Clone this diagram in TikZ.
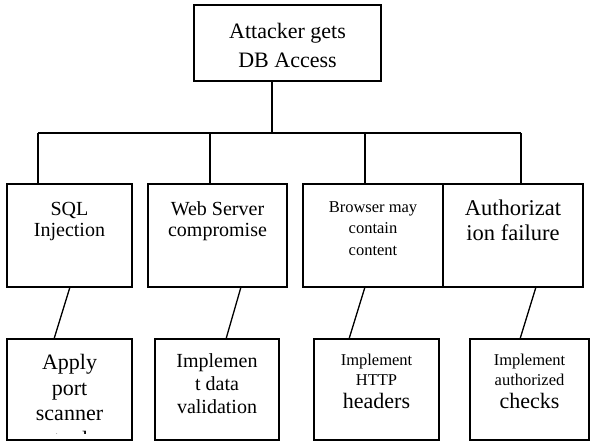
\documentclass[tikz,border=0pt]{standalone}
\usepackage{fontspec}
\setmainfont{Liberation Serif}
\newcommand\fsz[1]{\fontsize{#1}{#1}\selectfont}
\begin{document}
\begin{tikzpicture}[x=1pt,y=-1pt,
  box/.style={draw=black, line width=1.3pt, fill=white, rectangle, anchor=north west, inner sep=0pt, outer sep=0pt},
  txt/.style={anchor=base, inner sep=0pt, text=black},
  wire/.style={draw=black, line width=1.3pt}]
\useasboundingbox (0,0) rectangle (590,442);

% root
\node[box, minimum width=187pt, minimum height=76pt] (root) at (194,5) {};
\node[txt, font=\fsz{22}] (r1) at (287.5,38) {Attacker gets};
\node[txt, font=\fsz{22}] (r2) at (287.5,67) {DB Access};

% second row of boxes
\node[box, minimum width=125pt, minimum height=103pt] (a) at (7,184) {};
\node[box, minimum width=139pt, minimum height=103pt] (b) at (148,184) {};
\node[box, minimum width=140pt, minimum height=103pt] (c) at (303,184) {};
\node[box, minimum width=140pt, minimum height=103pt] (d) at (443,184) {};

\node[txt, font=\fsz{20}] (a1) at (69.5,215) {SQL};
\node[txt, font=\fsz{20}] (a2) at (69.5,236) {Injection};
\node[txt, font=\fsz{20}] (b1) at (217.5,215) {Web Server};
\node[txt, font=\fsz{20}] (b2) at (217.5,236) {compromise};
\node[txt, font=\fsz{16.5}] (c1) at (373,212) {Browser may};
\node[txt, font=\fsz{16.5}] (c2) at (373,233) {contain};
\node[txt, font=\fsz{16.5}] (c3) at (373,255) {content};
\node[txt, font=\fsz{22.5}] (d1) at (513,215) {Authorizat};
\node[txt, font=\fsz{22.5}] (d2) at (513,240) {ion failure};

% third row of boxes
\node[box, minimum width=125pt, minimum height=101pt] (e) at (7,339) {};
\node[box, minimum width=124pt, minimum height=101pt] (f) at (155,339) {};
\node[box, minimum width=125pt, minimum height=101pt] (g) at (314,339) {};
\node[box, minimum width=119pt, minimum height=101pt] (h) at (470,339) {};

\begin{scope}
  \clip (7,339) rectangle (132,433);
  \node[txt, font=\fsz{22}] (e1) at (69.5,369) {Apply};
  \node[txt, font=\fsz{22}] (e2) at (69.5,395) {port};
  \node[txt, font=\fsz{22}] (e3) at (69.5,420) {scanner};
  \node[txt, font=\fsz{22}] (e4) at (71,446) {tool};
\end{scope}
\node[txt, font=\fsz{20}] (f1) at (217,367) {Implemen};
\node[txt, font=\fsz{20}] (f2) at (217,390) {t data};
\node[txt, font=\fsz{20}] (f3) at (217,413) {validation};
\node[txt, font=\fsz{16.5}] (g1) at (376.5,365) {Implement};
\node[txt, font=\fsz{16.5}] (g2) at (376.5,385) {HTTP};
\node[txt, font=\fsz{22}] (g3) at (376.5,408) {headers};
\node[txt, font=\fsz{16.5}] (h1) at (529.5,365) {Implement};
\node[txt, font=\fsz{16.5}] (h2) at (529.5,385) {authorized};
\node[txt, font=\fsz{22}] (h3) at (529.5,408) {checks};

% tree connectors
\coordinate (busL) at (38,133);
\coordinate (busR) at (521,133);
\draw[wire] ([xshift=78pt]root.south west) -- ([xshift=78pt]root.south west |- busL);
\draw[wire] (busL) -- (busR);
\draw[wire] (busL) -- ([xshift=31pt]a.north west);
\draw[wire] (busL -| b.north west) ++(62,0) coordinate (bt) -- ([xshift=62pt]b.north west);
\draw[wire] (busL -| c.north west) ++(62,0) coordinate (ct) -- ([xshift=62pt]c.north west);
\draw[wire] (busR) -- ([xshift=78pt]d.north west);

% links to the countermeasures
\draw[wire] ([xshift=63pt]a.south west) -- ([xshift=47pt]e.north west);
\draw[wire] ([xshift=93pt]b.south west) -- ([xshift=71pt]f.north west);
\draw[wire] ([xshift=62pt]c.south west) -- ([xshift=35pt]g.north west);
\draw[wire] ([xshift=93pt]d.south west) -- ([xshift=50pt]h.north west);
\end{tikzpicture}
\end{document}
